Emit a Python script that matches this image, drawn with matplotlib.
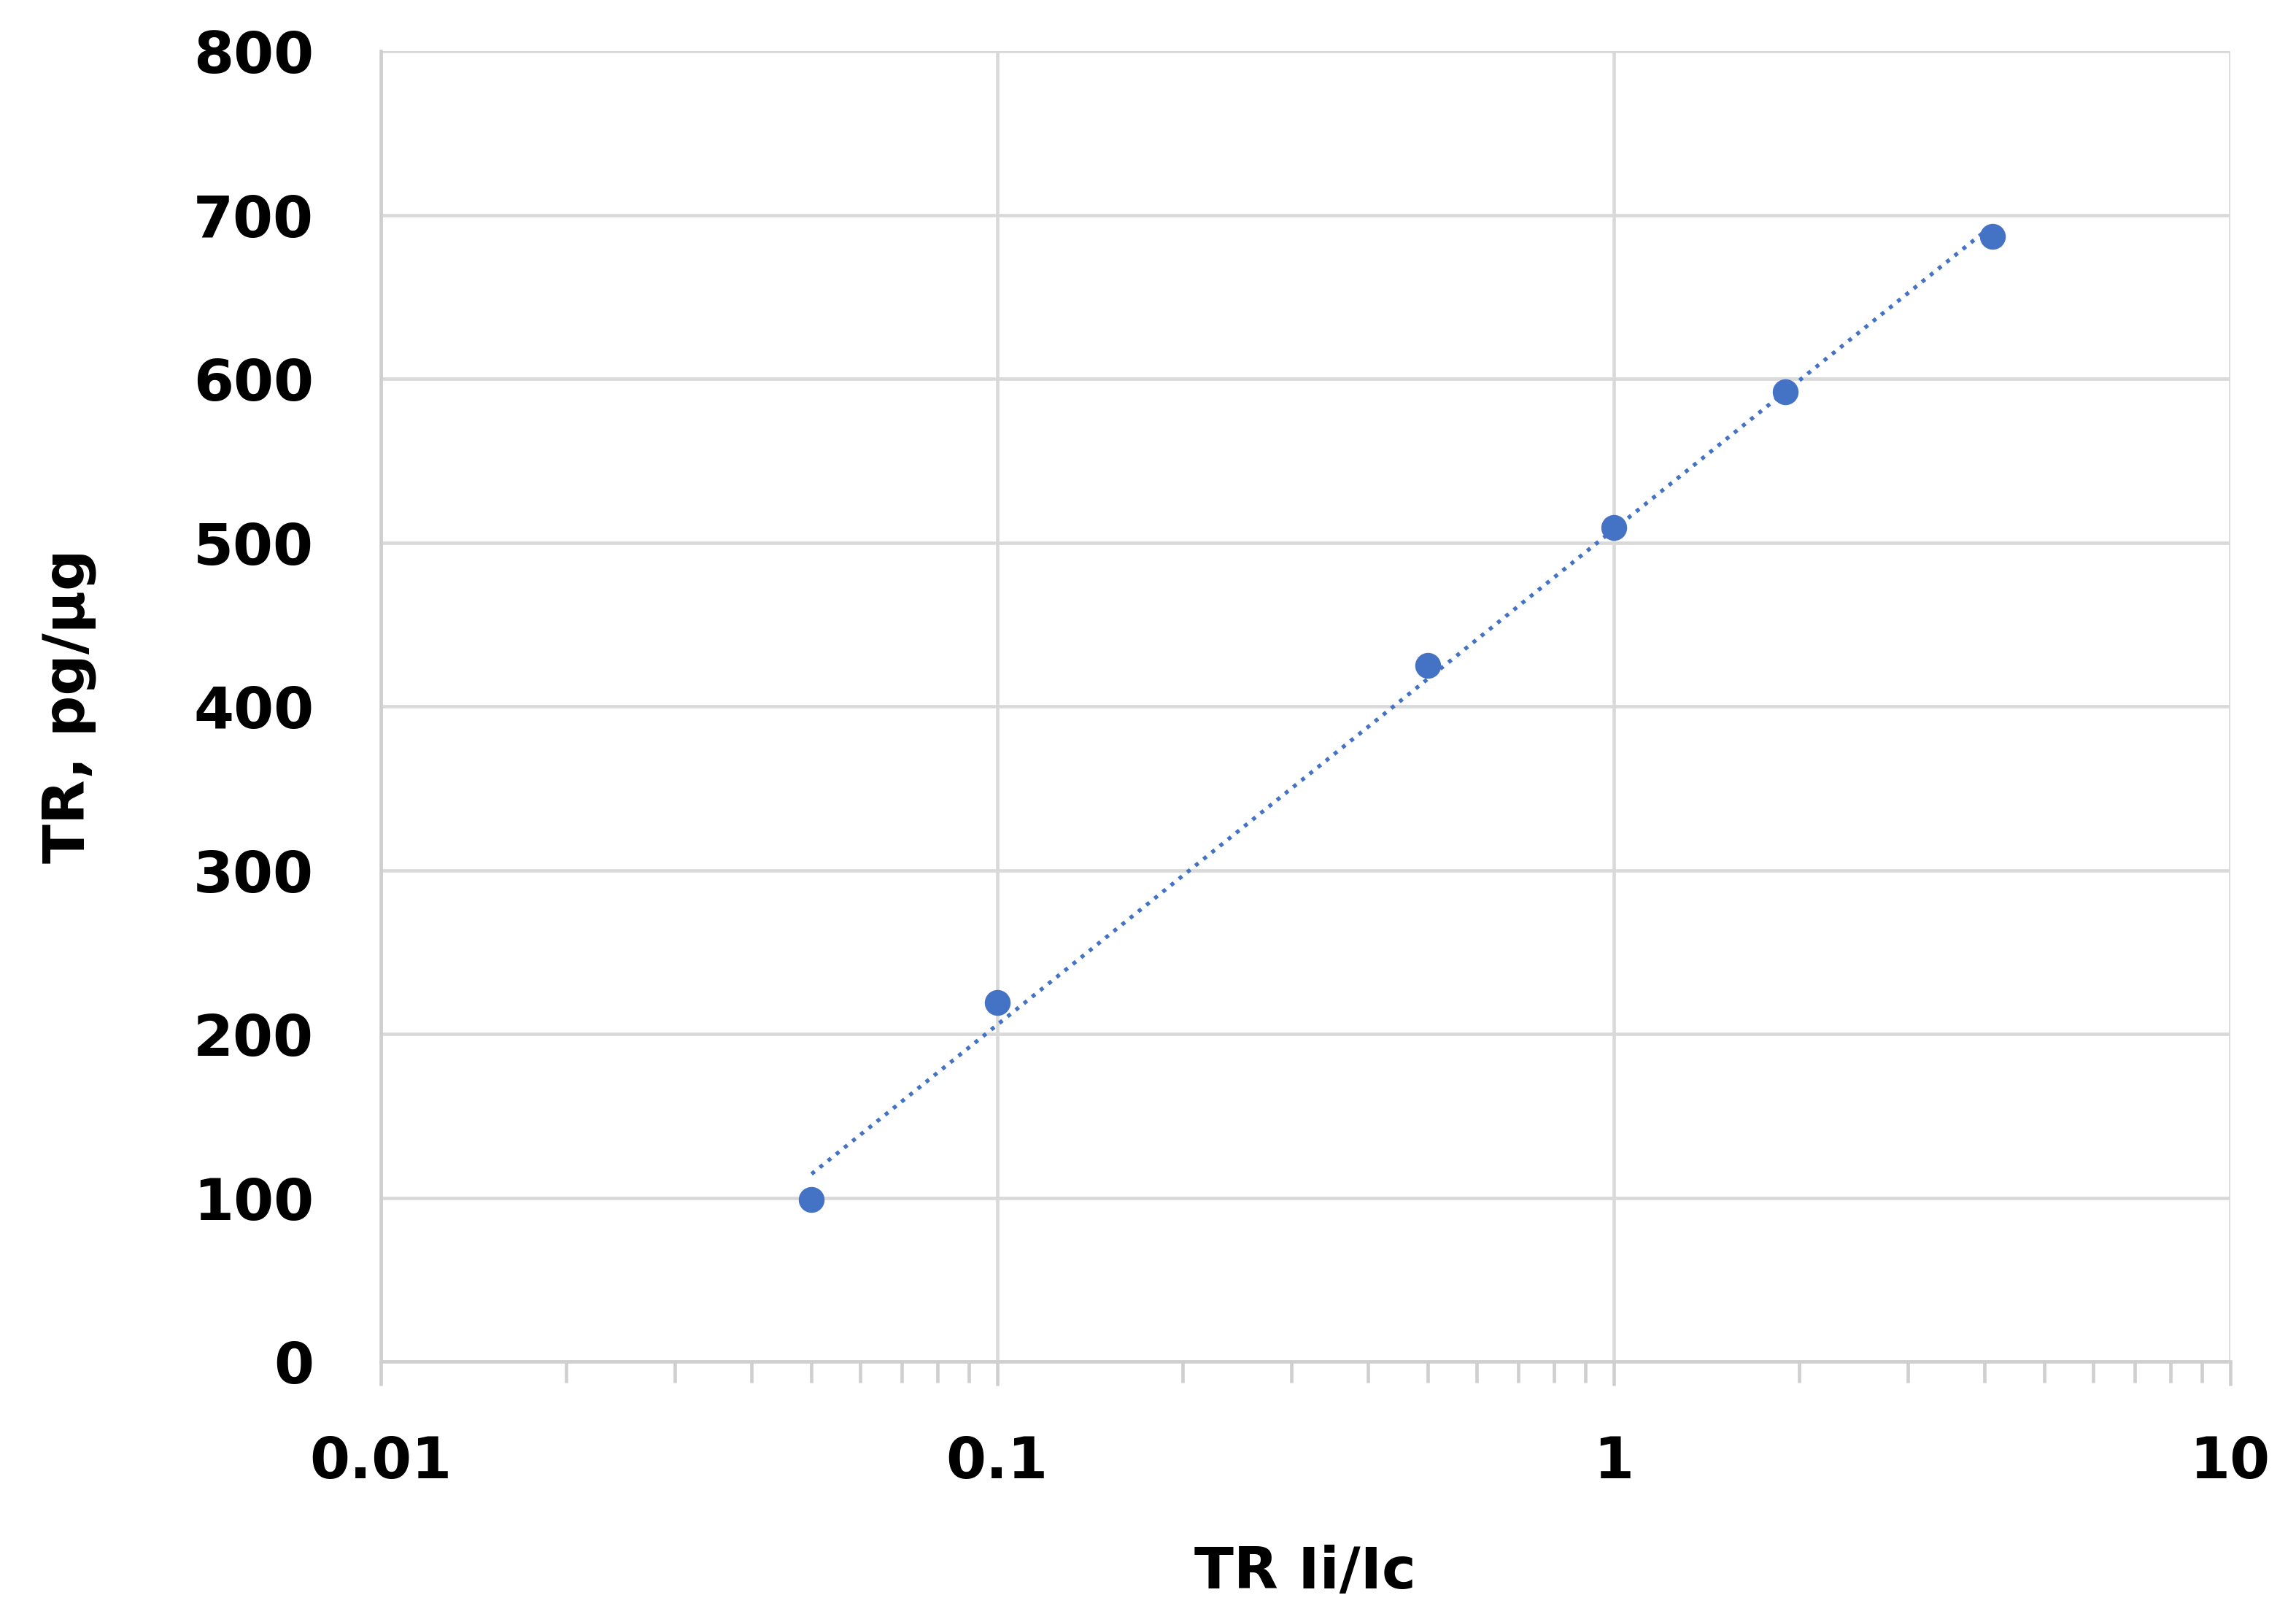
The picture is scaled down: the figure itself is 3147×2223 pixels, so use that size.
import numpy as np
import matplotlib
matplotlib.use("Agg")
import matplotlib.pyplot as plt
from matplotlib.ticker import LogLocator, FixedLocator, NullFormatter

# Data
ratio = [0.05, 0.1, 0.5, 1.0, 1.9, 4.12]       # TR Ii/Ic
conc = [99, 219, 425, 509, 592, 687]            # TR, pg/ug

x_ticks = [0.01, 0.1, 1, 10]
x_ticklabels = ["0.01", "0.1", "1", "10"]
y_ticks = [0, 100, 200, 300, 400, 500, 600, 700, 800]

blue = "#4472C4"
grid_col = "#d9d9d9"

fig = plt.figure(figsize=(10.49, 7.41), dpi=300)
ax = fig.add_axes([0.1658, 0.1606, 0.8055, 0.8078])

# logarithmic trendline (Excel style) y = a*ln(x) + b
lx = np.log(ratio)
a, b = np.polyfit(lx, conc, 1)
xs = np.logspace(np.log10(ratio[0]), np.log10(ratio[-1]), 200)
ax.plot(xs, a * np.log(xs) + b, linestyle=":", color=blue, linewidth=1.3, zorder=3)

ax.plot(ratio, conc, linestyle="none", marker="o", markersize=7.5,
        color=blue, markeredgecolor=blue, zorder=4)

ax.set_xscale("log")
ax.set_xlim(0.01, 10)
ax.set_ylim(0, 800)

ax.xaxis.set_major_locator(FixedLocator(x_ticks))
ax.set_xticklabels(x_ticklabels)
ax.xaxis.set_minor_locator(LogLocator(base=10, subs=np.arange(2, 10)))
ax.xaxis.set_minor_formatter(NullFormatter())
ax.set_yticks(y_ticks)

ax.grid(True, which="major", color=grid_col, linewidth=1.1)
ax.set_axisbelow(True)

for side in ["top", "right"]:
    ax.spines[side].set_visible(False)
for side in ["left", "bottom"]:
    ax.spines[side].set_color("#cfcfcf")
    ax.spines[side].set_linewidth(1.1)

ax.tick_params(axis="x", which="major", length=8, width=1.1, color="#cfcfcf",
               labelsize=19, pad=16)
ax.tick_params(axis="x", which="minor", length=7, width=1.1, color="#cfcfcf")
ax.tick_params(axis="y", which="both", length=0, labelsize=19, pad=22)

for lab in ax.get_xticklabels() + ax.get_yticklabels():
    lab.set_fontweight("bold")

ax.set_xlabel("TR Ii/Ic", fontsize=19, fontweight="bold", labelpad=18)
ax.set_ylabel("TR, pg/μg", fontsize=19, fontweight="bold", labelpad=32)

fig.savefig("out.png", dpi=300)
